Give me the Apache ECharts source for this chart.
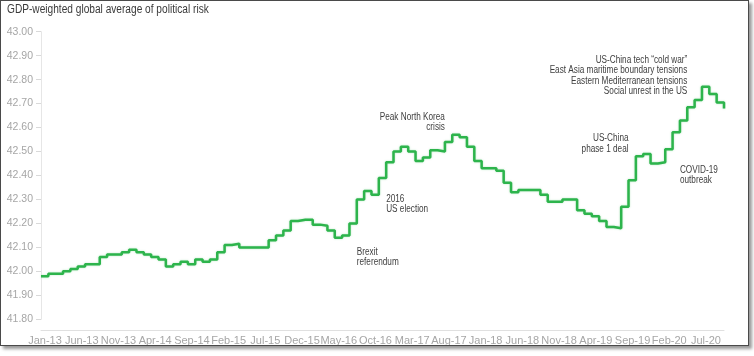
<!DOCTYPE html>
<html>
<head>
<meta charset="utf-8">
<script src="https://cdn.jsdelivr.net/npm/echarts@6/dist/echarts.min.js"></script>
<style>
  html, body { margin: 0; padding: 0; background: #fff; }
  #chart { position: absolute; left: 0; top: 0; width: 754px; height: 356px; }
  #frame { position: absolute; left: 0; top: 0; width: 747px; height: 344px; border: 1px solid #4a4a4a; box-shadow: 3px 3px 3px #9a9a9a; pointer-events: none; }
</style>
</head>
<body>
<div id="chart"></div>
<div id="frame"></div>
<script>
const titleText = 'GDP-weighted global average of political risk';

const categories = [
  'Jan-13','Feb-13','Mar-13','Apr-13','May-13','Jun-13','Jul-13','Aug-13','Sep-13','Oct-13','Nov-13','Dec-13',
  'Jan-14','Feb-14','Mar-14','Apr-14','May-14','Jun-14','Jul-14','Aug-14','Sep-14','Oct-14','Nov-14','Dec-14',
  'Jan-15','Feb-15','Mar-15','Apr-15','May-15','Jun-15','Jul-15','Aug-15','Sep-15','Oct-15','Nov-15','Dec-15',
  'Jan-16','Feb-16','Mar-16','Apr-16','May-16','Jun-16','Jul-16','Aug-16','Sep-16','Oct-16','Nov-16','Dec-16',
  'Jan-17','Feb-17','Mar-17','Apr-17','May-17','Jun-17','Jul-17','Aug-17','Sep-17','Oct-17','Nov-17','Dec-17',
  'Jan-18','Feb-18','Mar-18','Apr-18','May-18','Jun-18','Jul-18','Aug-18','Sep-18','Oct-18','Nov-18','Dec-18',
  'Jan-19','Feb-19','Mar-19','Apr-19','May-19','Jun-19','Jul-19','Aug-19','Sep-19','Oct-19','Nov-19','Dec-19',
  'Jan-20','Feb-20','Mar-20','Apr-20','May-20','Jun-20','Jul-20','Aug-20','Sep-20','Oct-20'
];

const riskValues = [
  41.98, 41.99, 41.99, 42.00, 42.01, 42.02, 42.03, 42.03, 42.06, 42.07, 42.07, 42.08,
  42.09, 42.08, 42.07, 42.06, 42.05, 42.02, 42.03, 42.04, 42.03, 42.05, 42.04, 42.05,
  42.08, 42.11, 42.115, 42.10, 42.10, 42.10, 42.10, 42.13, 42.15, 42.17, 42.21, 42.215,
  42.215, 42.195, 42.19, 42.17, 42.14, 42.15, 42.20, 42.30, 42.335, 42.32, 42.39, 42.455,
  42.50, 42.52, 42.50, 42.46, 42.475, 42.505, 42.50, 42.54, 42.57, 42.56, 42.52, 42.46,
  42.43, 42.43, 42.42, 42.37, 42.33, 42.34, 42.34, 42.34, 42.32, 42.29, 42.29, 42.30,
  42.30, 42.255, 42.24, 42.23, 42.21, 42.185, 42.18, 42.27, 42.38, 42.48, 42.49, 42.45,
  42.455, 42.51, 42.58, 42.63, 42.685, 42.715, 42.77, 42.74, 42.705, 42.68
];

const yMin = 41.8;
const yMax = 43.0;
const yStep = 0.1;

// annotation anchors in data coordinates (category index, value)
const annotationTexts = [
  'Brexit\nreferendum',
  '2016\nUS election',
  'Peak North Korea\ncrisis',
  'US-China\nphase 1 deal',
  'COVID-19\noutbreak',
  'US-China tech \u201ccold war\u201d\nEast Asia maritime boundary tensions\nEastern Mediterranean tensions\nSocial unrest in the US'
];
const annotationX = [42.9, 47.4, 55.45, 80.2, 86.8, 87.7];
const annotationY = [42.102, 42.323, 42.665, 42.577, 42.445, 42.904];
const annotationAlign = ['left', 'left', 'right', 'right', 'left', 'right'];

const baseFont = "'Liberation Sans', Arial, sans-serif";
const squeeze = 0.82;

const chart = echarts.init(document.getElementById('chart'), null, { renderer: 'canvas' });

chart.setOption({
  animation: false,
  backgroundColor: '#ffffff',
  grid: { left: 41, right: 30, top: 31.7, bottom: 36.7, containLabel: false },
  xAxis: {
    type: 'category',
    data: categories,
    boundaryGap: false,
    offset: 11,
    axisLine: { show: true, lineStyle: { color: '#e0e0e0', width: 1 } },
    axisTick: { show: false },
    axisLabel: {
      interval: 4,
      margin: 5,
      padding: [0, 0, 0, 8],
      color: '#a6a6a6',
      fontFamily: baseFont,
      fontSize: 11
    },
    splitLine: { show: false }
  },
  yAxis: {
    type: 'value',
    min: yMin,
    max: yMax,
    interval: yStep,
    axisLine: { show: true, lineStyle: { color: '#e6e6e6', width: 1 } },
    axisTick: { show: true, length: 5, lineStyle: { color: '#d9d9d9' } },
    axisLabel: {
      margin: 8,
      color: '#a6a6a6',
      fontFamily: baseFont,
      fontSize: 10.5,
      formatter: v => v.toFixed(2)
    },
    splitLine: { show: false }
  },
  series: [{
    type: 'line',
    data: riskValues,
    step: 'end',
    showSymbol: false,
    symbol: 'none',
    lineStyle: { color: '#2db44c', width: 2.5, shadowColor: 'rgba(45,180,76,0.35)', shadowBlur: 2 },
    itemStyle: { color: '#2db44c' }
  }]
});

const graphics = annotationTexts.map((t, k) => {
  const p = chart.convertToPixel({ xAxisIndex: 0, yAxisIndex: 0 }, [annotationX[k], annotationY[k]]);
  return {
    type: 'text',
    x: p[0],
    y: p[1],
    scaleX: squeeze,
    style: {
      text: t,
      fill: '#404040',
      font: '10px ' + baseFont,
      lineHeight: 10.5,
      align: annotationAlign[k],
      verticalAlign: 'top'
    }
  };
});
graphics.push({
  type: 'text',
  x: 7,
  y: 4,
  scaleX: 0.845,
  style: {
    text: titleText,
    fill: '#3a3a3a',
    font: '12px ' + baseFont,
    align: 'left',
    verticalAlign: 'top'
  }
});
chart.setOption({ graphic: graphics });
</script>
</body>
</html>
